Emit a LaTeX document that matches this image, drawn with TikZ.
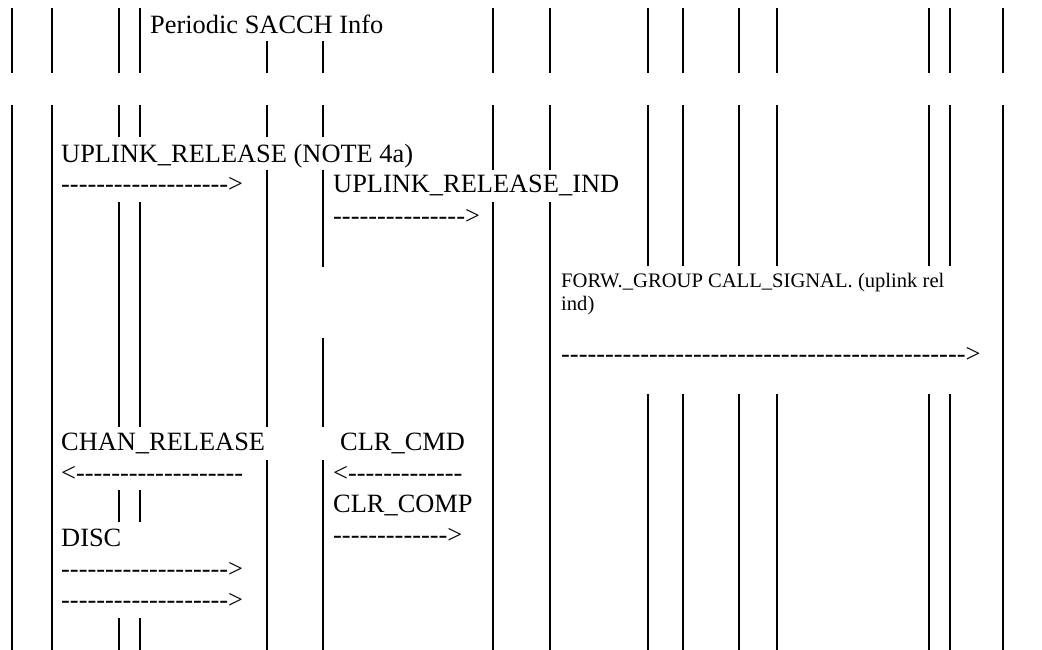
\documentclass[tikz,border=0pt]{standalone}
\usepackage{fontspec}
\setmainfont{Liberation Serif}[Ligatures=TeXOff]
\newcommand\dashrun[1]{\foreach \k in {1,...,#1}{-}}
\begin{document}
\begin{tikzpicture}[x=1pt,y=-1pt,
  vl/.style={line width=2pt},
  lbl/.style={anchor=base west, inner sep=0pt, font=\fontsize{26.4}{30}\selectfont},
  sml/.style={anchor=base west, inner sep=0pt, font=\fontsize{20.6}{24}\selectfont}]
\useasboundingbox (0,0) rectangle (1042,650);
% top band
\foreach \x in {12,52,119,140,493,550,648,683,739,777,929,950,1003}
  \draw[vl] (\x,8) -- (\x,73);
\foreach \x in {267,323}
  \draw[vl] (\x,41) -- (\x,73);
% lower band
\foreach \x in {12,52,1003}
  \draw[vl] (\x,105) -- (\x,650);
\foreach \x in {119,140}
  \draw[vl] (\x,105) -- (\x,137) (\x,202) -- (\x,427) (\x,490) -- (\x,522) (\x,618) -- (\x,650);
\draw[vl] (267,105) -- (267,137) (267,170) -- (267,427) (267,460) -- (267,650);
\draw[vl] (323,105) -- (323,137) (323,170) -- (323,267) (323,338) -- (323,427) (323,460) -- (323,650);
\foreach \x in {493,550}
  \draw[vl] (\x,105) -- (\x,170) (\x,202) -- (\x,650);
\foreach \x in {648,683,739,777,929,950}
  \draw[vl] (\x,105) -- (\x,266) (\x,394) -- (\x,650);
% texts
\node[lbl] (t1) at (150,34) {Periodic SACCH Info};
\node[lbl] (t2) at (61,163) {UPLINK\_RELEASE (NOTE 4a)};
\node[lbl] (t3) at (61,193) {\dashrun{19}>};
\node[lbl] (t4) at (333,193) {UPLINK\_RELEASE\_IND};
\node[lbl] (t5) at (333,224) {\dashrun{15}>};
\node[sml] (t6) at (561,287) {FORW.\_GROUP CALL\_SIGNAL. (uplink rel};
\node[sml] (t7) at (561,310) {ind)};
\node[lbl] (t8) at (561,362) {\dashrun{46}>};
\node[lbl] (t9) at (61,450) {CHAN\_RELEASE};
\node[lbl] (t10) at (61,481) {<\dashrun{19}};
\node[lbl] (t11) at (61,546) {DISC};
\node[lbl] (t12) at (61,577) {\dashrun{19}>};
\node[lbl] (t13) at (61,608) {\dashrun{19}>};
\node[lbl] (t14) at (340,450) {CLR\_CMD};
\node[lbl] (t15) at (333,481) {<\dashrun{13}};
\node[lbl] (t16) at (333,512) {CLR\_COMP};
\node[lbl] (t17) at (333,543) {\dashrun{13}>};
\end{tikzpicture}
\end{document}
